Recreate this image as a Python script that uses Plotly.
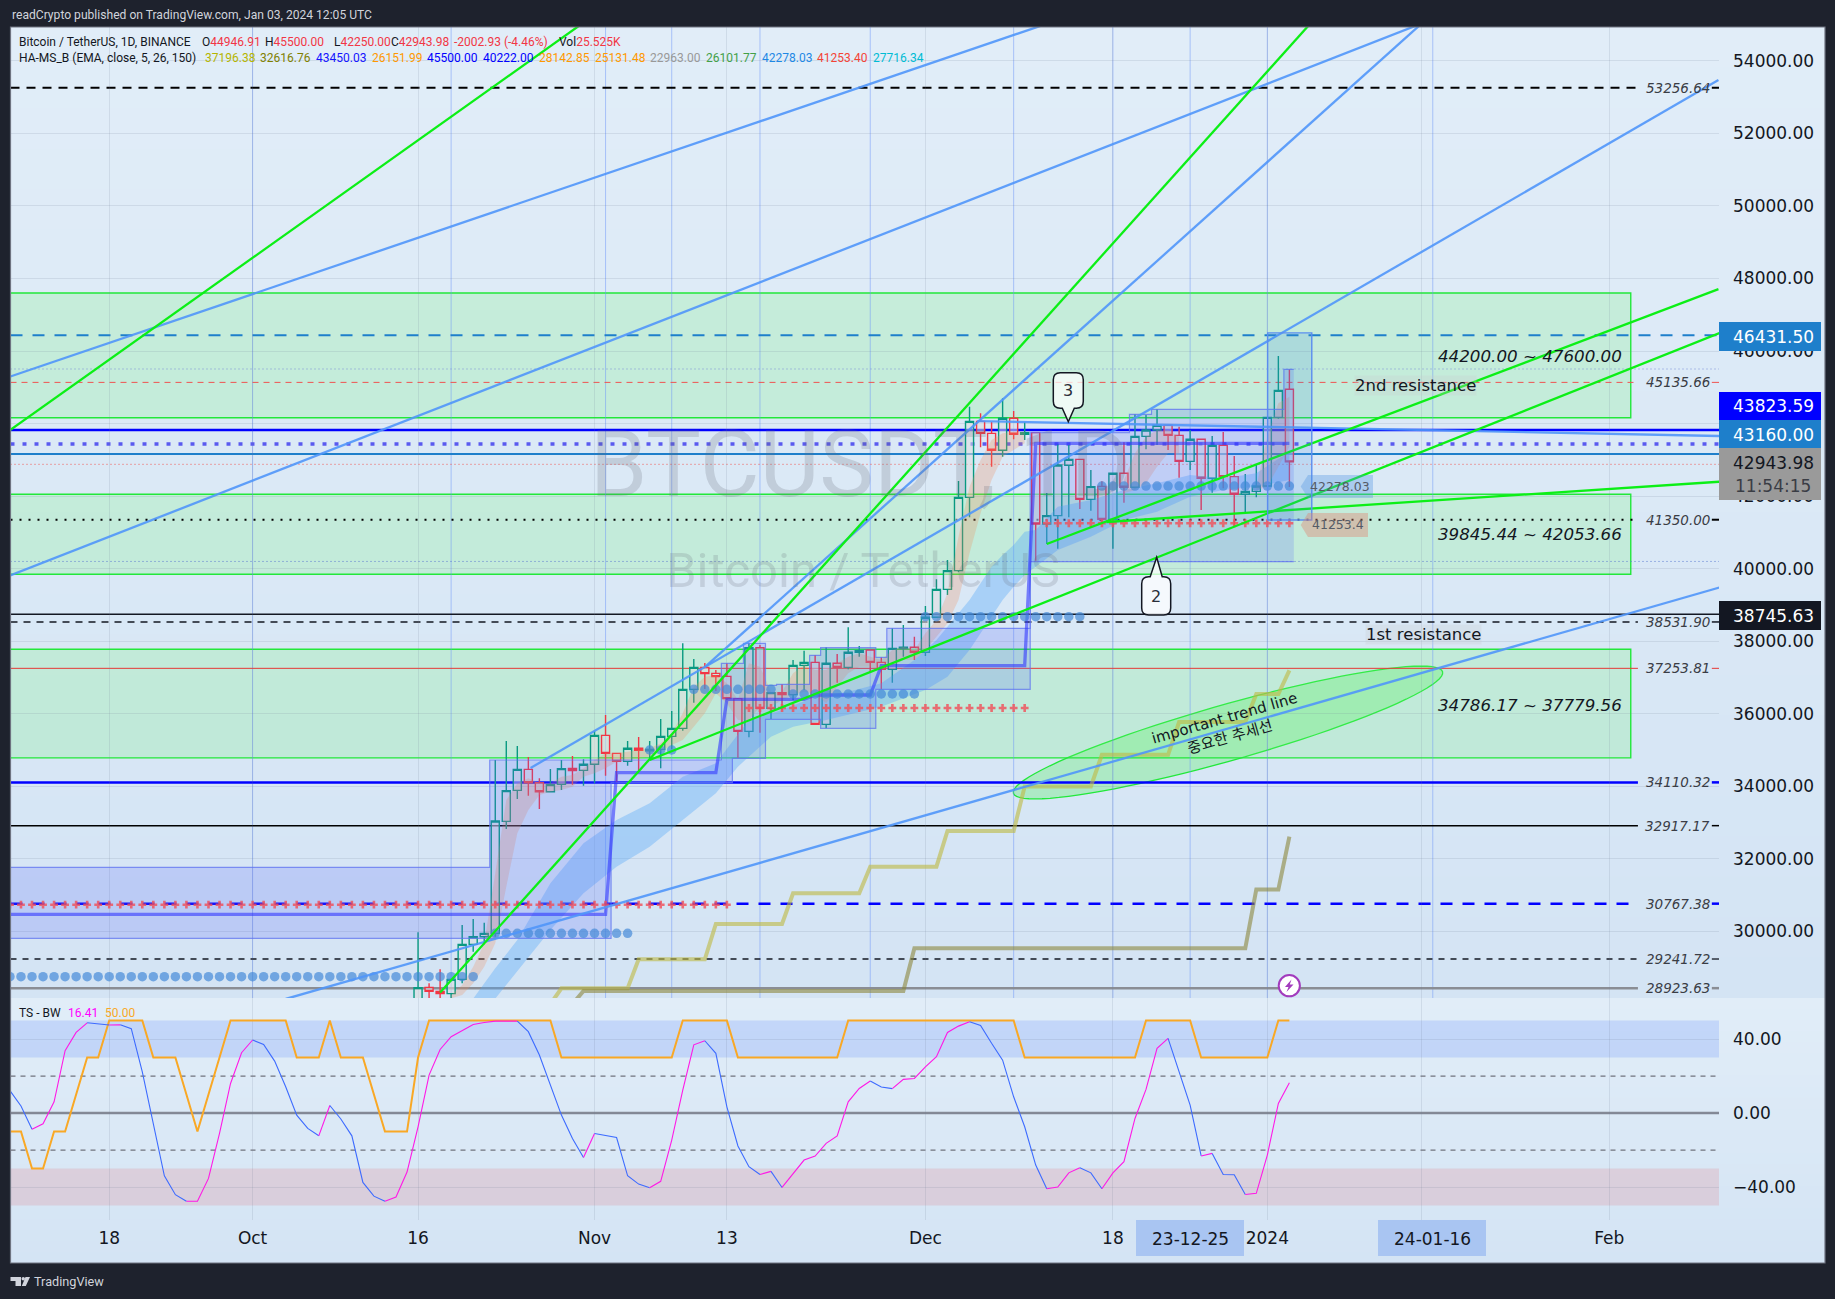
import math
import pandas as pd
import plotly.graph_objects as go

W, H = 1835, 1299
BASE = pd.Timestamp("2024-01-01")

def D(n):
    return BASE + pd.Timedelta(days=n)

def PX(x):
    return x / W

def PY(y):
    return 1 - y / H

# ------------------------------------------------------------- data
candle_open = [27154,28461,28350,28287,28681,29646,29857,29949,33036,33891,34470,34102,33854,34056,34497,34442,
 34608,35407,34911,34690,35049,34984,35021,35379,35600,36675,37281,37116,37033,36418,35517,37823,36151,36583,36528,37336,37419,35710,37392,37281,37695,37759,37419,37226,37796,37833,
 37695,38660,39431,39946,41967,44062,43731,43263,44145,43704,43750,41232,41462,42850,43014,41912,42270,41360,42629,42243,43648,43823,43952,43676,42959,43566,42491,43400,42537,42050,42132,
 42279,44172,44947]
candle_high = [29977,28571,28957,28681,30179,30344,30243,34727,35251,35113,34810,34222,34479,34727,34837,34745,
 35536,35967,34925,35251,35361,35251,35857,36078,37943,37511,37401,37208,37392,36430,37943,37897,36600,36813,37483,37741,37621,37833,37649,38384,37869,37770,37557,38356,38448,38127,
 38972,39707,40240,42418,44466,44282,44043,44696,44347,44043,43760,42086,43437,43410,43030,42720,42408,42640,43483,44255,44236,44393,43960,43915,43823,43575,43658,43768,43106,42610,42886,
 44180,45863,45500]
candle_low = [27000,28100,28136,28150,28571,29444,29646,29857,32825,33652,33744,33376,33830,33900,34047,34020,
 34084,34295,34102,34571,34405,34727,34497,35021,35536,36307,36684,36629,36381,34782,35352,35480,35857,36105,36381,36657,35700,35600,36859,37226,37575,37134,36684,36859,37575,37483,
 37594,38650,39275,39900,41416,43345,42812,43088,43566,43547,40221,40681,40552,41416,41645,41600,41250,40552,41820,42215,43290,43410,43272,42509,42720,41618,42096,42215,41158,41508,41967,
 42261,44135,42250]
candle_close = [28452,28350,28287,28681,29646,29857,29949,33046,33882,34470,34102,33854,34047,34488,34433,34608,
 35407,34911,34690,35049,34993,35021,35379,35600,36675,37281,37107,37024,36418,35517,37823,36151,36583,36528,37336,37419,35710,37392,37281,37695,37741,37419,37226,37805,37833,37695,
 38660,39431,39946,41967,44062,43731,43263,44145,43704,43750,41232,41462,42858,43014,41912,42261,41360,42629,42243,43648,43823,43952,43676,42959,43566,42491,43400,42537,42050,42132,42279,
 44172,44916,42944]
candle_dates = pd.date_range("2023-10-16", "2024-01-03")

hline_values = [53256.64,46431.5,45504,45135.66,43823.59,43437,43160,42877,41350,40200,38745.63,38531.9,37253.81,34110.32,32917.17,30767.38,29241.72,28438]
hline_colors = ["#000000","#1e7fcb","#7b8fd6","#ef5350","#0000ff","#5a5af0","#1e7fcb","#ef5350","#000000","#5a7ad0","#131722","#131722","#e53935","#0000ff","#000000","#0000ff","#131722","#8a8d94"]
hline_dashes = ["9px,7px","12px,10px","1px,3px","6px,5px","solid","4px,8px","solid","1px,3px","2px,7px","1px,3px","solid","7px,6px","solid","solid","solid","12px,10px","6px,6px","solid"]
hline_widths = [2,2,1,1,2.5,3.5,2,1,2,1,1.5,1.5,1,2.5,1.5,2.5,1.3,2.5]
hline_has_label = [1,0,0,1,0,0,0,0,1,0,0,1,1,1,1,1,1,1]

price_labels = ["53256.64","45135.66","41350.00","38531.90","37253.81","34110.32","32917.17","30767.38","29241.72","28923.63"]
price_label_levels = [53256.64,45135.66,41350.00,38531.90,37253.81,34110.32,32917.17,30767.38,29241.72,28438]

zone_low = [44160,39845.44,34786.17]
zone_high = [47600,42053.66,37779.56]
zone_text = ["44200.00 ~ 47600.00","39845.44 ~ 42053.66","34786.17 ~ 37779.56"]
zone_text_price = [45869,40966,36256]

blue_vline_days = [-92,-74,-60,-54,-46,-36,-23,-14,-7,0,15]
tick_days = [-105,-92,-77,-61,-49,-31,-14,0,14,31]
tick_text = ["18","Oct","16","Nov","13","Dec","18","2024","","Feb"]

green_lines = [[(-114.05,43805),(-62.4,54965)],[(-75,28321),(4.1,55094)],[(-56,34727),(41,46497)],[(-20,40681),(40.9,47704)],[(-14.6,41287),(41,42398)]]
blue_lines = [[(-114.05,45288),(-19.9,55030)],[(-114.05,39805),(14,55030)],[(-89,28140),(41,39482)],[(-51,37290),(14,55030)],[(-66.8,34507),(40.9,53470)],[(-26.3,44070),(41,43657)]]

blue_upper_dates = ["2023-10-21","2023-10-23","2023-10-25","2023-10-28","2023-10-31","2023-11-03","2023-11-06","2023-11-09","2023-11-12","2023-11-15","2023-11-18","2023-11-21","2023-11-24","2023-11-27","2023-11-30","2023-12-01","2023-12-02","2023-12-03","2023-12-04","2023-12-05","2023-12-06","2023-12-07","2023-12-08","2023-12-09","2023-12-10","2023-12-11","2023-12-13","2023-12-16","2023-12-19","2023-12-22","2023-12-25","2023-12-28","2023-12-31","2024-01-03"]
blue_upper = [28150,28985,29765,31327,32430,33073,33533,34268,34635,35830,36105,36473,36611,36840,37484,37759,38035,38402,38770,39137,39597,40056,40378,40653,41021,41067,41710,41893,42169,42353,42583,42490,42630,43226]
blue_lower_dates = ["2023-10-23","2023-10-28","2023-10-31","2023-11-03","2023-11-06","2023-11-09","2023-11-12","2023-11-14","2023-11-17","2023-11-19","2023-11-22","2023-11-27","2023-12-01","2023-12-03","2023-12-04","2023-12-05","2023-12-06","2023-12-07","2023-12-08","2023-12-09","2023-12-10","2023-12-11","2023-12-13","2023-12-16","2023-12-19","2023-12-22","2023-12-25","2023-12-28","2023-12-31","2024-01-03"]
blue_lower = [28150,30041,31052,31787,32338,33073,33808,34543,35370,35646,35830,36197,36657,37024,37392,37759,38219,38678,39137,39505,39827,40056,40515,40883,41342,41572,41985,42169,42261,42445]

orange_a_dates = pd.date_range("2023-10-19", "2023-12-10")
orange_a_upper = [28250,28525,29031,29674,31603,33624,34084,34222,34102,34084,34268,34314,34497,
 34727,34911,34911,34957,35003,35049,35187,35462,36013,36748,37024,37070,36840,36381,37392,37300,36610,36610,37116,37346,37208,37208,37392,37575,37667,37575,37484,37759,37851,37759,
 38219,38586,39321,40883,42261,42996,43548,43731,43777,43777]
orange_a_lower = [28158,28250,28571,29031,29674,31236,32706,33349,33762,33854,33900,33992,34268,
 34360,34497,34681,34727,34773,34819,34957,35140,35278,35646,36013,36565,36289,35830,35830,36197,36197,36381,36519,36610,36565,36289,36748,37116,37300,37300,37208,37300,37484,37484,
 37759,38127,38494,39137,40424,41526,42445,43088,43272,43456]
orange_b_dates = pd.date_range("2023-12-19", "2023-12-24")
orange_b_upper = [42445,43180,43639,43823,43823,43639]
orange_b_lower = [42077,42169,42353,42812,43180,43180]
orange_c_dates = pd.date_range("2023-12-31", "2024-01-03")
orange_c_upper = [42261,43639,44558,44742]
orange_c_lower = [42169,42261,42812,43364]

box_high_days = [-114,-70.5,-49.5,-47.5,-45.5,-44.5,-41.5,-40.5,-35.5,-34.5,-21.5,-12.5,-10.5,1.5,2.4]
box_high = [31768,34727,37390,37943,36785,36813,37612,37823,37557,38356,43750,44255,44393,45495,45495]
box_low_days = [-114,-59.5,-48.5,-45.5,-40.5,-35.5,-21.5,2.4]
box_low = [29811,34102,34773,35848,35600,36675,40194,40194]

step_dates = ["2023-09-09","2023-11-02","2023-11-03","2023-11-12","2023-11-13","2023-11-20","2023-11-21","2023-11-26","2023-11-27","2023-12-10","2023-12-11","2024-01-03"]
step_values = [30473,30473,34378,34378,36400,36400,36519,36519,37327,37327,43456,43456]

olive_a_dates = ["2023-10-28","2023-10-29","2023-11-04","2023-11-05","2023-11-11","2023-11-12","2023-11-18","2023-11-19","2023-11-25","2023-11-26","2023-12-02","2023-12-03","2023-12-09","2023-12-10","2023-12-16","2023-12-17","2023-12-23","2023-12-24","2023-12-30","2023-12-31","2024-01-02","2024-01-03"]
olive_a_values = [28000,28433,28433,29233,29233,30206,30206,31052,31052,31787,31787,32770,32770,34000,34000,34870,34870,35774,35774,36546,36546,37196]
olive_b_dates = ["2023-10-30","2023-10-31","2023-11-29","2023-11-30","2023-12-30","2023-12-31","2024-01-02","2024-01-03"]
olive_b_values = [28000,28360,28360,29537,29537,31160,31160,32616]

dot_starts = ["2023-09-09","2023-10-23","2023-11-06","2023-11-10","2023-11-19","2023-12-01","2023-12-17"]
dot_ends = ["2023-10-21","2023-11-04","2023-11-08","2023-11-17","2023-11-30","2023-12-15","2024-01-03"]
dot_levels = [28755,29949,35003,36675,36546,38678,42278]
cross_starts = ["2023-09-09","2023-11-15","2023-12-12"]
cross_ends = ["2023-11-13","2023-12-10","2024-01-03"]
cross_levels = [30739,36160,41253]

bw_values = [12.1,3.8,-8.8,-5.8,6.1,33.7,43.6,48.8,48.1,47.6,47.7,45.6,22.3,-5.6,-33.9,-44.1,-47.7,-47.7,-35.3,-11,16,32.6,
 39.5,37.1,28.1,14.2,-1.1,-8.3,-12.3,4.1,-3.2,-12.3,-37.5,-44.9,-47.7,-45.4,-31.9,-7.4,20.5,34.4,41.3,44.5,47.9,49,49.7,49.7,49.7,44,31.4,15.1,-1.1,-13.7,-24,
 -11,-11.9,-13.2,-33.9,-38.4,-40.4,-36.9,-14.6,12.4,36.9,39.1,32.3,3.4,-17.8,-29,-33.2,-31.5,-40.2,-33,-25.4,-23.2,-16.4,-12.4,6.1,13.3,17.3,14.1,13.2,18.2,18.7,
 25,30.5,43.6,47,49.4,47.4,37.7,28.6,8.8,-7.4,-28.1,-40.9,-40,-32.3,-29.5,-32.3,-40.9,-32.3,-26.3,-2.9,12.8,35,40.4,22.3,4.3,-23.2,-21.8,-33.2,-33.3,-44,-43.4,-22.7,5.2,16.41]
ts_values = [-10,-10,-30,-30,-10,-10,10,30,30,50,50,50,50,30,30,30,10,-10,10,30,50,50,
 50,50,50,50,30,30,30,50,30,30,30,10,-10,-10,-10,30,50,50,50,50,50,50,50,50,50,50,50,50,30,30,30,
 30,30,30,30,30,30,30,30,50,50,50,50,50,30,30,30,30,30,30,30,30,30,30,50,50,50,50,50,50,50,
 50,50,50,50,50,50,50,50,50,30,30,30,30,30,30,30,30,30,30,30,50,50,50,50,50,30,30,30,30,30,30,30,50,50]
ts_dates = pd.date_range("2023-09-09", "2024-01-03")

header_values = ["37196.38","32616.76","43450.03","26151.99","45500.00","40222.00","28142.85","25131.48","22963.00","26101.77","42278.03","41253.40","27716.34"]
header_colors = ["#b5b500","#808000","#1414ff","#ff9800","#0000ff","#0000ff","#ff9800","#ff9800","#999999","#43a047","#1e88e5","#f44336","#00bcd4"]

# ------------------------------------------------------------- layout helpers
FONT = "DejaVu Sans"
SMALL = "Roboto"
shapes, annos = [], []
XR = [D(-113.95), D(40.95)]
YR = [28167, 54931]
Y2R = [-57.8, 62.2]

def text(x, y, s, size=12, color="#131722", xa="left", ya="middle", family=SMALL, **kw):
    annos.append(dict(xref="paper", yref="paper", x=PX(x), y=PY(y), text=s, showarrow=False, xanchor=xa, yanchor=ya,
                      font=dict(family=family, size=size, color=color), borderpad=0, **kw))

def px_rect(x0, y0, x1, y1, fill, line=None, layer="below", lw=1):
    shapes.append(dict(type="rect", xref="paper", yref="paper", x0=PX(x0), x1=PX(x1), y0=PY(y0), y1=PY(y1),
                       fillcolor=fill, line=dict(width=lw if line else 0, color=line or "rgba(0,0,0,0)"), layer=layer))

def px_path(points, fill, line=None, lw=1, layer="above", close=True):
    p = "M " + " L ".join(f"{PX(a):.5f},{PY(b):.5f}" for a, b in points) + (" Z" if close else "")
    shapes.append(dict(type="path", xref="paper", yref="paper", path=p, fillcolor=fill,
                       line=dict(width=lw if line else 0, color=line or "rgba(0,0,0,0)"), layer=layer))

def balloon(x0, y0, x1, y1, tip, up):
    r = 7
    cx = (x0 + x1) / 2
    pts = [(x0 + r, y0)]
    if up:
        pts += [(cx - 6, y0), (tip[0], tip[1]), (cx + 6, y0)]
    pts += [(x1 - r, y0), ("q", x1, y0, x1, y0 + r), (x1, y1 - r), ("q", x1, y1, x1 - r, y1)]
    if not up:
        pts += [(cx + 6, y1), (tip[0], tip[1]), (cx - 6, y1)]
    pts += [(x0 + r, y1), ("q", x0, y1, x0, y1 - r), (x0, y0 + r), ("q", x0, y0, x0 + r, y0)]
    s = ""
    for i, p in enumerate(pts):
        if p[0] == "q":
            s += f" Q {PX(p[1]):.5f},{PY(p[2]):.5f} {PX(p[3]):.5f},{PY(p[4]):.5f}"
        else:
            s += (" M " if i == 0 else " L ") + f"{PX(p[0]):.5f},{PY(p[1]):.5f}"
    shapes.append(dict(type="path", xref="paper", yref="paper", path=s + " Z", fillcolor="rgba(255,255,255,0.72)",
                       line=dict(width=1.5, color="#131722"), layer="above"))

# backgrounds (vertical gradient, per pane)
def gradient(y0, y1, n=24):
    c0, c1 = (225, 237, 248), (212, 228, 244)
    for i in range(n):
        t = i / (n - 1)
        c = tuple(round(a + (b - a) * t) for a, b in zip(c0, c1))
        px_rect(10.5, y0 + (y1 - y0) * i / n, 1825, min(y1, y0 + (y1 - y0) * (i + 1) / n + 2), f"rgb{c}")

gradient(27, 998)
gradient(998, 1263)
shapes.append(dict(type="rect", xref="paper", yref="paper", x0=PX(10.5), x1=PX(1825), y0=PY(27), y1=PY(1263),
                   line=dict(color="#6e7380", width=1.2), fillcolor="rgba(0,0,0,0)", layer="above"))

# zones
for lo, hi in zip(zone_low, zone_high):
    shapes.append(dict(type="rect", xref="x", yref="y", x0=D(-115), x1=D(32.95), y0=lo, y1=hi,
                       fillcolor="rgba(115,245,120,0.22)", line=dict(color="#22e83a", width=1.4), layer="below"))
# blue vertical lines
for d in blue_vline_days:
    shapes.append(dict(type="line", xref="x", yref="y", x0=D(d), x1=D(d), y0=YR[0], y1=YR[1],
                       line=dict(color="rgba(110,150,250,0.5)", width=1), layer="below"))
# horizontal lines (the labelled ones stop short of their label and leave a stub at the axis)
for v, c, ds, w, lab in zip(hline_values, hline_colors, hline_dashes, hline_widths, hline_has_label):
    shapes.append(dict(type="line", xref="x", yref="y", x0=XR[0], x1=D(33.6) if lab else XR[1], y0=v, y1=v,
                       line=dict(color=c, width=w, dash=ds), layer="below"))
    if lab:
        shapes.append(dict(type="line", xref="x", yref="y", x0=D(40.3), x1=XR[1], y0=v, y1=v,
                           line=dict(color=c, width=w), layer="below"))
# drawn rectangle over the last days
shapes.append(dict(type="rect", xref="x", yref="y", x0=D(0.03), x1=D(4.03), y0=41341, y1=46500,
                   fillcolor="rgba(60,140,230,0.18)", line=dict(color="#5b8def", width=1.4), layer="above"))

# TS bands and levels
shapes.append(dict(type="rect", xref="x2", yref="y2", x0=XR[0], x1=XR[1], y0=30, y1=50, fillcolor="rgba(41,98,255,0.16)", line=dict(width=0), layer="below"))
shapes.append(dict(type="rect", xref="x2", yref="y2", x0=XR[0], x1=XR[1], y0=-50, y1=-30, fillcolor="rgba(230,100,110,0.18)", line=dict(width=0), layer="below"))
for lv in (20, -20):
    shapes.append(dict(type="line", xref="x2", yref="y2", x0=XR[0], x1=XR[1], y0=lv, y1=lv, line=dict(color="#70737e", width=1.2, dash="5px,5px"), layer="below"))
shapes.append(dict(type="line", xref="x2", yref="y2", x0=XR[0], x1=XR[1], y0=0, y1=0, line=dict(color="#858a96", width=2.4), layer="below"))

# ellipse
ell = []
cx, cy, ea, eb, ang = 1228, 732.5, 223, 28, math.radians(-15.8)
for i in range(90):
    t = 2 * math.pi * i / 90
    u, v = ea * math.cos(t), eb * math.sin(t)
    ell.append((cx + u * math.cos(ang) - v * math.sin(ang), cy + u * math.sin(ang) + v * math.cos(ang)))
px_path(ell, "rgba(60,240,70,0.27)", "#22e83a", 1.3, layer="below")

# balloons
balloon(1053.3, 372.7, 1083.3, 408.3, (1068.3, 421.7), False)
balloon(1141.7, 576.7, 1170.7, 615, (1156.7, 557.3), True)

# price tags (indicator labels)
px_path([(1300.7, 486.5), (1308, 475), (1373, 475), (1373, 498), (1308, 498)], "rgba(80,150,225,0.35)", layer="above")
px_path([(1300.7, 525), (1308, 513), (1368, 513), (1368, 537), (1308, 537)], "rgba(225,130,110,0.4)", layer="above")

# right hand value boxes
tags = [(322, 351, "#1e7fcb", "46431.50"), (392, 420, "#0000ff", "43823.59"), (420, 448, "#1e7fcb", "43160.00"), (601, 630, "#131722", "38745.63")]
for y0, y1, c, t in tags:
    px_rect(1719, y0, 1821, y1, c, layer="above")
    text(1773, (y0 + y1) / 2 + 0.5, t, 17, "#ffffff", xa="center", family=FONT)
px_rect(1719, 448, 1821, 500, "#9a9a9a", layer="above")
text(1773, 463, "42943.98", 17, "#131722", xa="center", family=FONT)
text(1773, 486, "11:54:15", 17, "#3a3d45", xa="center", family=FONT)

# time axis boxes
px_rect(1136, 1220, 1244, 1256, "#a9c5f2", layer="above")
text(1190, 1239, "23-12-25", 17, "#131722", xa="center", family=FONT)
px_rect(1378, 1220, 1486, 1256, "#a9c5f2", layer="above")
text(1432, 1239, "24-01-16", 17, "#131722", xa="center", family=FONT)

# lightning mark
shapes.append(dict(type="circle", xref="paper", yref="paper", x0=PX(1278.7), x1=PX(1299.9), y0=PY(975.1), y1=PY(996.3),
                   fillcolor="#ffffff", line=dict(color="#a23bbd", width=2), layer="above"))
px_path([(1291.5, 979.5), (1285, 987), (1288.5, 987), (1286.5, 992), (1293.5, 984.5), (1289.8, 984.5)], "#a23bbd", layer="above")

# logo
px_path([(10.5, 1277), (21, 1277), (21, 1286), (15.5, 1286), (15.5, 1281), (10.5, 1281)], "#d1d4dc")
px_path([(25.5, 1277), (30, 1277), (25.8, 1286), (21.8, 1286)], "#d1d4dc")
shapes.append(dict(type="circle", xref="paper", yref="paper", x0=PX(21.5), x1=PX(25), y0=PY(1277), y1=PY(1280.5), fillcolor="#d1d4dc", line=dict(width=0), layer="above"))

# texts
text(10.5, 15, "readCrypto published on TradingView.com, Jan 03, 2024 12:05 UTC", 12.1, "#d1d4dc")
text(33, 1281.5, "TradingView", 12.7, "#d1d4dc")
text(18, 41.7, "Bitcoin / TetherUS, 1D, BINANCE", 12, "#131722")
RED = "#f23645"
def head(x, letter, val):
    text(x, 41.7, (f"<span style='color:#131722'>{letter}</span>" if letter else "") + f"<span style='color:{RED}'>{val}</span>", 12)
head(200.7, "O", "44946.91")
head(264, "H", "45500.00")
head(333, "L", "42250.00")
head(390, "C", "42943.98")
head(453, "", "-2002.93 (-4.46%)")
head(557.5, "Vol", "25.525K")
text(18, 57.7, "HA-MS_B (EMA, close, 5, 26, 150)", 12, "#131722")
for i, (hv, hc) in enumerate(zip(header_values, header_colors)):
    text(203.6 + 55.7 * i, 57.7, hv, 12, hc)
text(18, 1013, "TS - BW", 12, "#131722")
text(67, 1013, "16.41", 12, "#ff00ff")
text(103.5, 1013, "50.00", 12, "#f9a825")

text(860, 465, "BTCUSDT, 1D", 92, "rgba(100,105,120,0.22)", xa="center")
text(863, 570, "Bitcoin / TetherUS", 49, "rgba(100,105,120,0.2)", xa="center")

for lab, tp in zip(zone_text, zone_text_price):
    annos.append(dict(xref="paper", yref="y", x=PX(1624), y=tp, text=f"<i>{lab}</i>", showarrow=False, xanchor="right", yanchor="middle",
                      font=dict(family=FONT, size=16.7, color="#131722")))
for lab, lv in zip(price_labels, price_label_levels):
    annos.append(dict(xref="paper", yref="y", x=PX(1712), y=lv, text=f"<i>{lab}</i>", showarrow=False, xanchor="right", yanchor="middle",
                      font=dict(family=FONT, size=13.5, color="#3a3d45")))
text(1415, 385, "2nd resistance", 16.5, "#131722", xa="center", family=FONT, bgcolor="rgba(200,205,210,0.28)")
text(1423, 634, "1st resistance", 16.5, "#131722", xa="center", family=FONT, bgcolor="rgba(200,205,210,0.28)")
text(1340, 486.5, "42278.03", 12.5, "#555b66", xa="center", family=FONT)
text(1338, 524, "41253.4", 12.5, "#555b66", xa="center", family=FONT)
text(1068.3, 390, "3", 16, "#2a2e39", xa="center", family=FONT)
text(1156.3, 596, "2", 16, "#2a2e39", xa="center", family=FONT)
annos.append(dict(xref="paper", yref="paper", x=PX(1227), y=PY(728), showarrow=False, textangle=-16, xanchor="center", yanchor="middle",
                  text="important trend line<br>중요한 추세선", font=dict(family="DejaVu Sans, Noto Sans CJK KR", size=15, color="#131722")))

# ------------------------------------------------------------- traces
fig = go.Figure()
M = dict(xaxis="x", yaxis="y")

def band(x, up, lo, color, **axes):
    xs = list(pd.to_datetime(x))
    fig.add_trace(go.Scatter(x=xs + xs[::-1], y=list(up) + list(lo)[::-1], fill="toself", fillcolor=color, mode="none", hoverinfo="skip", **axes))

# blue ribbon
rib_x = list(pd.to_datetime(blue_upper_dates)) + list(pd.to_datetime(blue_lower_dates))[::-1]
fig.add_trace(go.Scatter(x=rib_x, y=blue_upper + blue_lower[::-1], fill="toself", fillcolor="rgba(80,165,250,0.36)", mode="none", hoverinfo="skip", **M))
band(orange_a_dates, orange_a_upper, orange_a_lower, "rgba(240,140,90,0.26)", **M)
band(orange_b_dates, orange_b_upper, orange_b_lower, "rgba(240,140,90,0.26)", **M)
band(orange_c_dates, orange_c_upper, orange_c_lower, "rgba(240,140,90,0.26)", **M)

# stepped high/low box
BOX = dict(shape="hv", color="rgba(95,115,240,0.75)", width=1.2)
fig.add_trace(go.Scatter(x=[D(d) for d in box_low_days], y=box_low, mode="lines", line=BOX, hoverinfo="skip", **M))
fig.add_trace(go.Scatter(x=[D(d) for d in box_high_days], y=box_high, mode="lines", line=BOX, fill="tonexty", fillcolor="rgba(85,100,250,0.2)", hoverinfo="skip", **M))

fig.add_trace(go.Scatter(x=step_dates, y=step_values, mode="lines", line=dict(color="rgba(50,55,255,0.6)", width=3.3), hoverinfo="skip", **M))
fig.add_trace(go.Scatter(x=olive_a_dates, y=olive_a_values, mode="lines", line=dict(color="rgba(190,185,70,0.62)", width=4), hoverinfo="skip", **M))
fig.add_trace(go.Scatter(x=olive_b_dates, y=olive_b_values, mode="lines", line=dict(color="rgba(140,135,60,0.6)", width=4), hoverinfo="skip", **M))

fig.add_trace(go.Candlestick(x=candle_dates, open=candle_open, high=candle_high, low=candle_low, close=candle_close,
    increasing=dict(line=dict(color="#089981", width=1.4), fillcolor="rgba(222,222,222,0.55)"),
    decreasing=dict(line=dict(color="#f23645", width=1.4), fillcolor="rgba(222,222,222,0.55)"),
    whiskerwidth=0, hoverinfo="skip", **M))

for s, e, lv in zip(dot_starts, dot_ends, dot_levels):
    xs = pd.date_range(s, e)
    fig.add_trace(go.Scatter(x=xs, y=[lv] * len(xs), mode="markers", marker=dict(size=9.5, color="rgba(65,135,215,0.68)", line=dict(width=0)), hoverinfo="skip", **M))
for s, e, lv in zip(cross_starts, cross_ends, cross_levels):
    xs = pd.date_range(s, e)
    fig.add_trace(go.Scatter(x=xs, y=[lv] * len(xs), mode="markers", marker=dict(symbol="cross", size=6.5, color="rgba(240,80,90,0.82)", line=dict(width=0)), hoverinfo="skip", **M))

for line_set, c in ((blue_lines, "rgba(80,150,250,0.9)"), (green_lines, "#0cef16")):
    for a, b in line_set:
        fig.add_trace(go.Scatter(x=[D(a[0]), D(b[0])], y=[a[1], b[1]], mode="lines", line=dict(color=c, width=2.3), hoverinfo="skip", **M))

# TS pane
T2 = dict(xaxis="x2", yaxis="y2")
fig.add_trace(go.Scatter(x=ts_dates, y=ts_values, mode="lines", line=dict(color="#f9a825", width=2), hoverinfo="skip", **T2))
i, n = 0, len(bw_values)
while i < n - 1:
    up = bw_values[i + 1] >= bw_values[i]
    j = i + 1
    while j < n - 1 and (bw_values[j + 1] >= bw_values[j]) == up:
        j += 1
    fig.add_trace(go.Scatter(x=ts_dates[i:j + 1], y=bw_values[i:j + 1], mode="lines", line=dict(color="#ff19e6" if up else "#3d6bff", width=1.1), hoverinfo="skip", **T2))
    i = j

GRID = "rgba(110,125,150,0.16)"
dom_x = [PX(10.5), PX(1719)]
ticks = [D(d) for d in tick_days]
fig.update_layout(
    width=W, height=H, margin=dict(l=0, r=0, t=0, b=0), paper_bgcolor="#1e222d", plot_bgcolor="rgba(0,0,0,0)",
    showlegend=False, boxgap=0.27, boxgroupgap=0, shapes=shapes, annotations=annos, dragmode=False,
    font=dict(family=FONT, size=17, color="#131722"),
    xaxis=dict(domain=dom_x, range=XR, type="date", anchor="y", tickvals=ticks, showticklabels=False, showgrid=True, gridcolor=GRID, zeroline=False, showline=False, ticks="", rangeslider=dict(visible=False)),
    xaxis2=dict(domain=dom_x, range=XR, type="date", anchor="y2", tickvals=ticks, ticktext=tick_text, showgrid=True, gridcolor=GRID, zeroline=False, showline=False, ticks="", ticklabelstandoff=6, tickfont=dict(family=FONT, size=17, color="#131722")),
    yaxis=dict(domain=[PY(998), PY(27)], range=YR, side="right", anchor="x", tick0=0, dtick=2000, tickformat=".2f", showgrid=True, gridcolor=GRID, zeroline=False, showline=False, ticks="", ticklabelstandoff=13, tickfont=dict(family=FONT, size=17, color="#131722")),
    yaxis2=dict(domain=[PY(1220), PY(998)], range=Y2R, side="right", anchor="x2", tickvals=[-40, 0, 40], tickformat=".2f", showgrid=True, gridcolor=GRID, zeroline=False, showline=False, ticks="", ticklabelstandoff=13, tickfont=dict(family=FONT, size=17, color="#131722")),
)

fig.write_html("out.html", config=dict(displayModeBar=False), post_script="document.body.style.margin='0';")
